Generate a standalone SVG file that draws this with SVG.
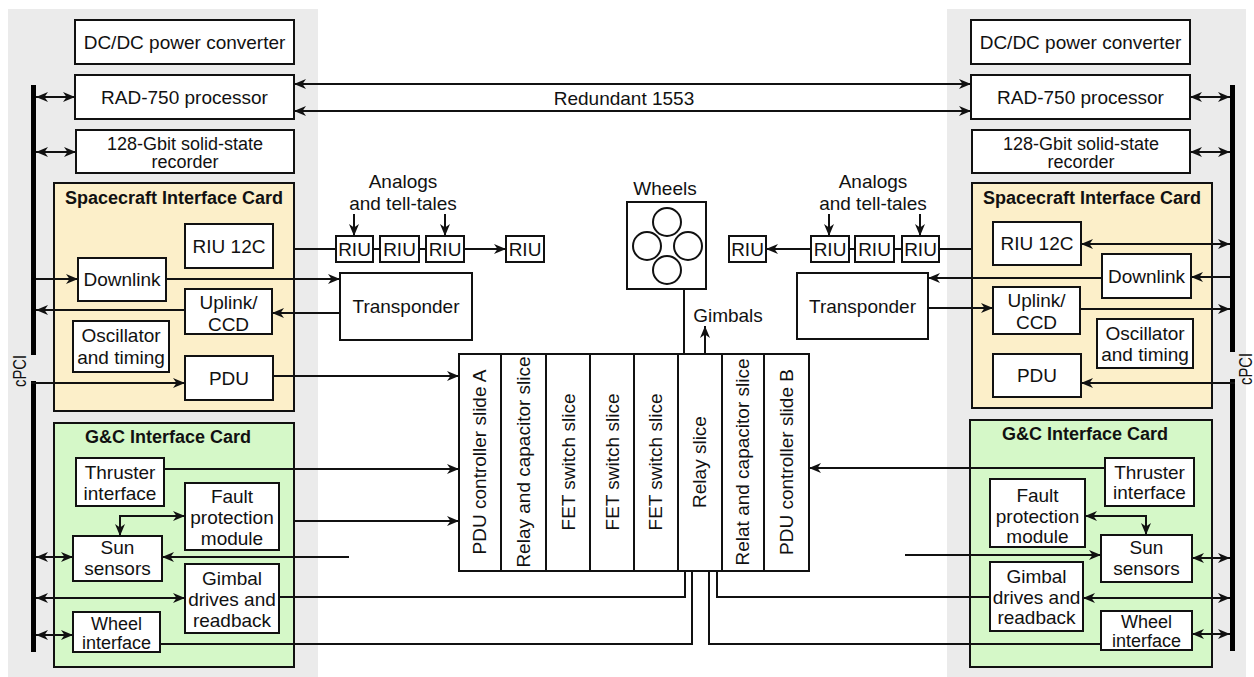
<svg xmlns="http://www.w3.org/2000/svg" width="1254" height="677" viewBox="0 0 1254 677">
<style>
.t{font-family:"Liberation Sans",Arial,sans-serif;font-size:19px;text-anchor:middle;fill:#111}
.s{font-size:18px}
.b{font-weight:bold;font-size:18px}
.box{fill:#fff;stroke:#111;stroke-width:2}
.sc{fill:#fcefc9;stroke:#111;stroke-width:2}
.gc{fill:#d5f8c8;stroke:#111;stroke-width:2}
.ln{fill:none;stroke:#111;stroke-width:2}
.bus{stroke:#000;stroke-width:5;fill:none}
.pan{fill:#ebebeb}
</style>
<defs>
<marker id="a" viewBox="0 0 12 10" refX="12" refY="5" markerWidth="12" markerHeight="10" markerUnits="userSpaceOnUse" orient="auto-start-reverse">
<path d="M0,0 L12,5 L0,10 L3.5,5 z" fill="#111"/>
</marker>
</defs>
<rect class="pan" x="8" y="9" width="310" height="668"/>
<rect class="pan" x="947" y="9" width="299" height="668"/>

<!-- left panel -->
<g id="L-dcdc"><rect class="box" x="75" y="20" width="219" height="44"/><text class="t" x="184.5" y="49">DC/DC power converter</text></g>
<g id="L-rad"><rect class="box" x="75" y="75" width="219" height="44"/><text class="t" x="184.5" y="104">RAD-750 processor</text></g>
<g id="L-rec"><rect class="box" x="76" y="130" width="218" height="43"/><text class="t s" x="185" y="150">128-Gbit solid-state</text><text class="t s" x="185" y="168">recorder</text></g>
<g id="L-sc"><rect class="sc" x="54" y="183" width="240" height="228"/><text class="t b" x="174" y="204">Spacecraft Interface Card</text></g>
<g id="L-riu12"><rect class="box" x="185" y="224" width="88" height="44"/><text class="t" x="229" y="253">RIU 12C</text></g>
<g id="L-down"><rect class="box" x="78" y="258" width="88" height="43"/><text class="t" x="122" y="286">Downlink</text></g>
<g id="L-up"><rect class="box" x="185" y="289" width="87" height="45"/><text class="t" x="228.5" y="309">Uplink/</text><text class="t" x="228.5" y="331">CCD</text></g>
<g id="L-osc"><rect class="box" x="73" y="321" width="96" height="51"/><text class="t" x="121" y="342">Oscillator</text><text class="t" x="121" y="364">and timing</text></g>
<g id="L-pdu"><rect class="box" x="185" y="356" width="88" height="44"/><text class="t" x="229" y="385">PDU</text></g>
<g id="L-gc"><rect class="gc" x="54" y="423" width="240" height="244"/><text class="t b" x="168" y="443">G&amp;C Interface Card</text></g>
<g id="L-thr"><rect class="box" x="76" y="458" width="88" height="48"/><text class="t" x="120" y="479">Thruster</text><text class="t" x="120" y="500">interface</text></g>
<g id="L-fault"><rect class="box" x="185" y="483" width="94" height="67"/><text class="t" x="232" y="503">Fault</text><text class="t" x="232" y="524">protection</text><text class="t" x="232" y="545">module</text></g>
<g id="L-sun"><rect class="box" x="73" y="536" width="89" height="45"/><text class="t" x="117.5" y="554">Sun</text><text class="t" x="117.5" y="575">sensors</text></g>
<g id="L-gim"><rect class="box" x="185" y="564" width="94" height="69"/><text class="t" x="232" y="585">Gimbal</text><text class="t" x="232" y="606">drives and</text><text class="t" x="232" y="627">readback</text></g>
<g id="L-wheel"><rect class="box" x="73" y="612" width="87" height="40"/><text class="t s" x="116.5" y="630">Wheel</text><text class="t s" x="116.5" y="649">interface</text></g>
<g id="L-bus"><path class="bus" d="M33.5,85 V355 M33.5,381 V652"/><text class="t" transform="translate(19,371) rotate(-90)" y="7" textLength="32" lengthAdjust="spacingAndGlyphs">cPCI</text></g>

<!-- right panel -->
<g id="R-dcdc"><rect class="box" x="971" y="20" width="219" height="44"/><text class="t" x="1080.5" y="49">DC/DC power converter</text></g>
<g id="R-rad"><rect class="box" x="971" y="75" width="219" height="44"/><text class="t" x="1080.5" y="104">RAD-750 processor</text></g>
<g id="R-rec"><rect class="box" x="972" y="130" width="218" height="43"/><text class="t s" x="1081" y="150">128-Gbit solid-state</text><text class="t s" x="1081" y="168">recorder</text></g>
<g id="R-sc"><rect class="sc" x="972" y="183" width="240" height="225"/><text class="t b" x="1092" y="204">Spacecraft Interface Card</text></g>
<g id="R-riu12"><rect class="box" x="993" y="222" width="88" height="43"/><text class="t" x="1037" y="250">RIU 12C</text></g>
<g id="R-down"><rect class="box" x="1102" y="254" width="89" height="44"/><text class="t" x="1146.5" y="283">Downlink</text></g>
<g id="R-up"><rect class="box" x="993" y="287" width="87" height="47"/><text class="t" x="1036.5" y="307">Uplink/</text><text class="t" x="1036.5" y="329">CCD</text></g>
<g id="R-osc"><rect class="box" x="1097" y="319" width="96" height="49"/><text class="t" x="1145" y="340">Oscillator</text><text class="t" x="1145" y="361">and timing</text></g>
<g id="R-pdu"><rect class="box" x="993" y="354" width="88" height="43"/><text class="t" x="1037" y="382">PDU</text></g>
<g id="R-gc"><rect class="gc" x="970" y="420" width="242" height="247"/><text class="t b" x="1085" y="440">G&amp;C Interface Card</text></g>
<g id="R-thr"><rect class="box" x="1105" y="458" width="89" height="48"/><text class="t" x="1149.5" y="479">Thruster</text><text class="t" x="1149.5" y="499">interface</text></g>
<g id="R-fault"><rect class="box" x="990" y="479" width="95" height="68"/><text class="t" x="1037.5" y="502">Fault</text><text class="t" x="1037.5" y="523">protection</text><text class="t" x="1037.5" y="543">module</text></g>
<g id="R-sun"><rect class="box" x="1101" y="535" width="91" height="47"/><text class="t" x="1146.5" y="554">Sun</text><text class="t" x="1146.5" y="575">sensors</text></g>
<g id="R-gim"><rect class="box" x="990" y="562" width="93" height="69"/><text class="t" x="1036.5" y="583">Gimbal</text><text class="t" x="1036.5" y="604">drives and</text><text class="t" x="1036.5" y="624">readback</text></g>
<g id="R-wheel"><rect class="box" x="1101" y="611" width="91" height="39"/><text class="t s" x="1146.5" y="628">Wheel</text><text class="t s" x="1146.5" y="647">interface</text></g>
<g id="R-bus"><path class="bus" d="M1232.5,85 V352 M1232.5,379 V651"/><text class="t" transform="translate(1245,369) rotate(-90)" y="7" textLength="32" lengthAdjust="spacingAndGlyphs">cPCI</text></g>

<!-- center -->
<g id="L-riu"><rect class="box" x="336" y="236" width="37" height="26"/><text class="t" x="354.5" y="256">RIU</text>
<rect class="box" x="380" y="236" width="39" height="26"/><text class="t" x="399.5" y="256">RIU</text>
<rect class="box" x="426" y="236" width="38" height="26"/><text class="t" x="445" y="256">RIU</text>
<rect class="box" x="506" y="236" width="38" height="26"/><text class="t" x="525" y="256">RIU</text></g>
<g id="L-analog"><text class="t" x="403" y="188">Analogs</text><text class="t" x="403" y="210">and tell-tales</text></g>
<g id="L-trans"><rect class="box" x="340" y="273" width="132" height="67"/><text class="t" x="406" y="313">Transponder</text></g>
<g id="R-riu"><rect class="box" x="729" y="236" width="37" height="26"/><text class="t" x="747.5" y="256">RIU</text>
<rect class="box" x="811" y="236" width="38" height="26"/><text class="t" x="830" y="256">RIU</text>
<rect class="box" x="855" y="236" width="39" height="26"/><text class="t" x="874.5" y="256">RIU</text>
<rect class="box" x="902" y="236" width="37" height="26"/><text class="t" x="920.5" y="256">RIU</text></g>
<g id="R-analog"><text class="t" x="873" y="188">Analogs</text><text class="t" x="873" y="210">and tell-tales</text></g>
<g id="R-trans"><rect class="box" x="797" y="273" width="131" height="66"/><text class="t" x="862.5" y="313">Transponder</text></g>
<g id="wheels"><text class="t" x="665" y="195">Wheels</text><rect class="box" x="627" y="202" width="79" height="87"/>
<circle class="ln" cx="667" cy="222" r="14"/><circle class="ln" cx="647" cy="246" r="14"/><circle class="ln" cx="688" cy="246" r="14"/><circle class="ln" cx="667" cy="270" r="14"/></g>
<g id="gimbals"><text class="t" x="728" y="322">Gimbals</text></g>
<g id="pdu-slices"><rect class="box" x="459" y="354" width="350" height="217"/>
<path class="ln" d="M501,354 V571 M546,354 V571 M590,354 V571 M634,354 V571 M678,354 V571 M722,354 V571 M764,354 V571"/>
<text class="t" transform="translate(479,462) rotate(-90)" y="7">PDU controller slide A</text>
<text class="t" transform="translate(523,462) rotate(-90)" y="7">Relay and capacitor slice</text>
<text class="t" transform="translate(568,462) rotate(-90)" y="7">FET switch slice</text>
<text class="t" transform="translate(612,462) rotate(-90)" y="7">FET switch slice</text>
<text class="t" transform="translate(655,462) rotate(-90)" y="7">FET switch slice</text>
<text class="t" transform="translate(699,462) rotate(-90)" y="7">Relay slice</text>
<text class="t" transform="translate(742,462) rotate(-90)" y="7">Relat and capacitor slice</text>
<text class="t" transform="translate(786,462) rotate(-90)" y="7">PDU controller slide B</text></g>
<g id="redundant"><text class="t" x="624" y="105">Redundant 1553</text></g>

<g id="connectors" class="ln">
<path d="M294,84 H971" marker-start="url(#a)" marker-end="url(#a)"/>
<path d="M294,111 H971" marker-start="url(#a)" marker-end="url(#a)"/>
<path d="M36,97 H75" marker-start="url(#a)" marker-end="url(#a)"/>
<path d="M36,152 H76" marker-start="url(#a)" marker-end="url(#a)"/>
<path d="M36,279 H78" marker-end="url(#a)"/>
<path d="M166,279 H340" marker-end="url(#a)"/>
<path d="M340,313 H272" marker-end="url(#a)"/>
<path d="M185,310 H36" marker-end="url(#a)"/>
<path d="M31,383 H185" marker-end="url(#a)"/>
<path d="M273,376 H459" marker-end="url(#a)"/>
<path d="M294,249 H336 M373,249 H380 M419,249 H426"/>
<path d="M464,249 H506" marker-end="url(#a)"/>
<path d="M354,214 V236" marker-end="url(#a)"/>
<path d="M445,214 V236" marker-end="url(#a)"/>
<path d="M164,469 H459" marker-end="url(#a)"/>
<path d="M294,521 H459" marker-end="url(#a)"/>
<path d="M185,516 H120 V536" marker-start="url(#a)" marker-end="url(#a)"/>
<path d="M349,557 H162" marker-end="url(#a)"/>
<path d="M36,557 H73" marker-start="url(#a)" marker-end="url(#a)"/>
<path d="M36,598 H185" marker-start="url(#a)" marker-end="url(#a)"/>
<path d="M279,597 H685 V571"/>
<path d="M36,635 H73" marker-start="url(#a)" marker-end="url(#a)"/>
<path d="M160,644 H692 V571"/>
<path d="M684,289 V354"/>
<path d="M705,354 V326" marker-end="url(#a)"/>
<path d="M1190,97 H1230" marker-start="url(#a)" marker-end="url(#a)"/>
<path d="M1190,152 H1230" marker-start="url(#a)" marker-end="url(#a)"/>
<path d="M1081,244 H1230" marker-start="url(#a)" marker-end="url(#a)"/>
<path d="M1230,277 H1191" marker-end="url(#a)"/>
<path d="M1102,278 H928" marker-end="url(#a)"/>
<path d="M928,308 H993" marker-end="url(#a)"/>
<path d="M1080,309 H1230" marker-end="url(#a)"/>
<path d="M1235,383 H1081" marker-end="url(#a)"/>
<path d="M939,249 H972 M849,249 H855 M894,249 H902"/>
<path d="M811,249 H766" marker-end="url(#a)"/>
<path d="M829,214 V236" marker-end="url(#a)"/>
<path d="M920,214 V236" marker-end="url(#a)"/>
<path d="M1105,468 H809" marker-end="url(#a)"/>
<path d="M1085,516 H1146 V535" marker-start="url(#a)" marker-end="url(#a)"/>
<path d="M905,555 H1101" marker-end="url(#a)"/>
<path d="M1192,558 H1230" marker-start="url(#a)" marker-end="url(#a)"/>
<path d="M1083,598 H1230" marker-start="url(#a)" marker-end="url(#a)"/>
<path d="M990,597 H717 V571"/>
<path d="M1192,634 H1230" marker-start="url(#a)" marker-end="url(#a)"/>
<path d="M1101,644 H709 V571"/>
</g>
</svg>
